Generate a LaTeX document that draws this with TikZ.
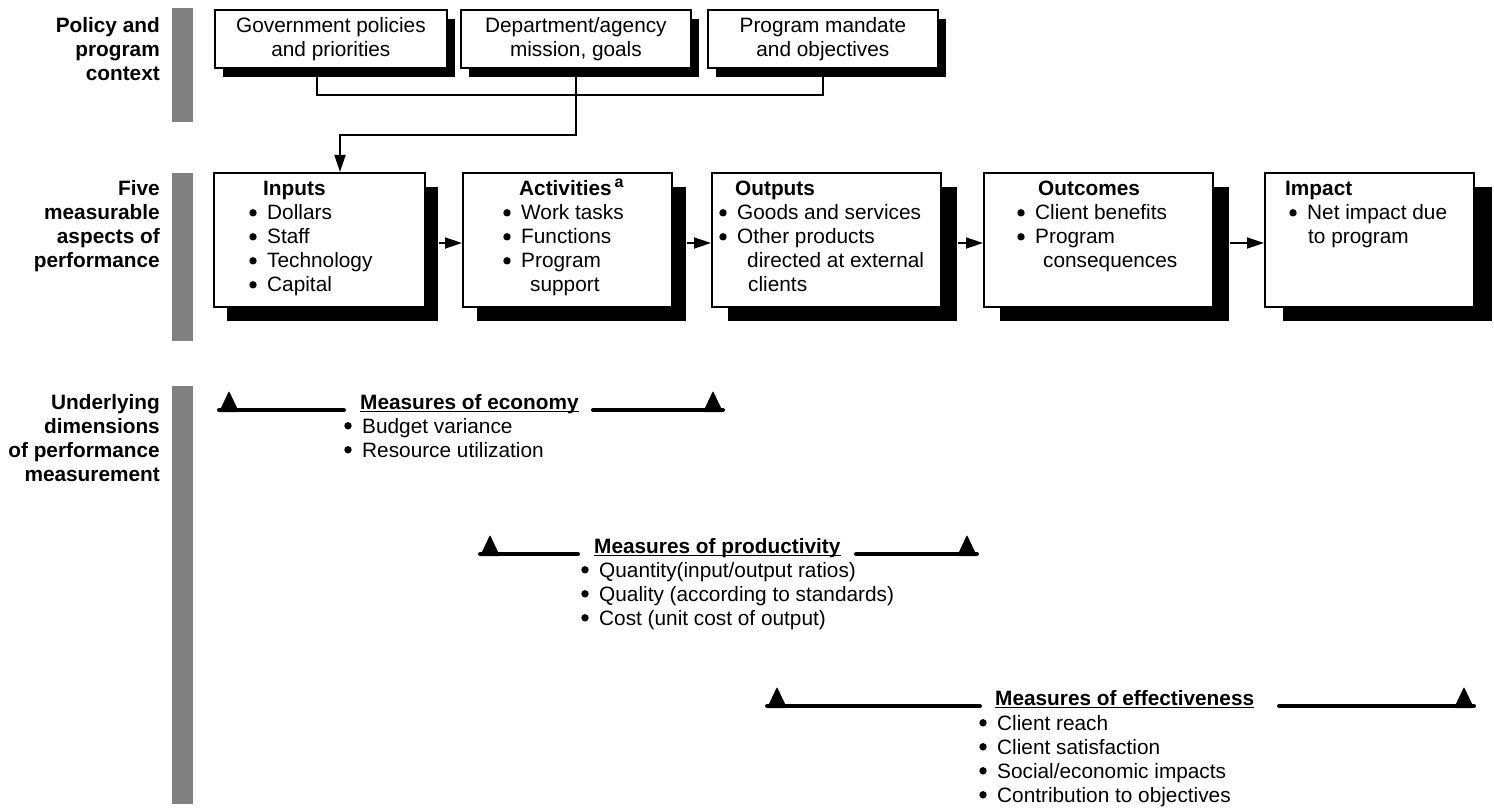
\documentclass[tikz,border=0pt]{standalone}
\usepackage{fontspec}
\setmainfont{Liberation Sans}
\usetikzlibrary{arrows.meta,shadows,calc}
\definecolor{barg}{RGB}{128,128,128}
\newcommand\fsz{\fontsize{20.8pt}{24pt}\selectfont}
\newcommand\bdot[2]{\fill (#1,#2-7.2) circle (3.7pt);}
\newcommand\mtri[2]{\fill[rounded corners=0.8pt] (#1-10,#2+2) -- (#1,#2-19) -- (#1+10,#2+2) -- cycle;}
\begin{document}
\begin{tikzpicture}[x=1pt,y=-1pt,
  box/.style={draw, line width=1.8pt, fill=white, anchor=north west, inner sep=0pt},
  topbox/.style={box, minimum height=58pt, align=center, font=\fsz,
    drop shadow={shadow xshift=8pt, shadow yshift=-9pt, fill=black, opacity=1}},
  mainbox/.style={box, minimum height=134pt,
    drop shadow={shadow xshift=#1pt, shadow yshift=-14pt, fill=black, opacity=1}},
  txt/.style={anchor=base west, inner sep=0pt, font=\fsz},
  ttl/.style={anchor=base west, inner sep=0pt, font=\fsz\bfseries},
  lab/.style={anchor=north east, align=right, inner sep=0pt, font=\fsz\bfseries},
  conn/.style={line width=1.8pt},
  arr/.style={line width=1.8pt, -{Triangle[length=17pt,width=11pt]}},
  meas/.style={line width=4pt, line cap=round},
  uline/.style={line width=1.5pt}
]
\useasboundingbox (0,0) rectangle (1494,810);

% gray bars
\fill[barg] (172,8) rectangle (193,122);
\fill[barg] (172,173) rectangle (193,341);
\fill[barg] (172,386) rectangle (193,804);

% left labels
\node[lab] (l1) at (160,17) {Policy and\\program\\context};
\node[lab] (l2) at (160,180) {Five\\measurable\\aspects of\\performance};
\node[lab] (l3) at (160,394) {Underlying\\dimensions\\of performance\\measurement};

% top boxes
\node[topbox, minimum width=232pt] (g1) at (214,9) {Government policies\\and priorities};
\node[topbox, minimum width=230pt] (g2) at (460,9) {Department/agency\\mission, goals};
\node[topbox, minimum width=230pt] (g3) at (707,9) {Program mandate\\and objectives};

% main boxes
\node[mainbox=13, minimum width=211pt] (inp) at (213,172) {};
\node[mainbox=14, minimum width=209pt] (act) at (462,172) {};
\node[mainbox=16, minimum width=229pt] (out) at (711,172) {};
\node[mainbox=16, minimum width=229pt] (ocm) at (983,172) {};
\node[mainbox=18, minimum width=209pt] (imp) at (1264,172) {};

% top connectors
\coordinate (j1) at (317,95);
\coordinate (j2) at (576,95);
\coordinate (j3) at (823,95);
\coordinate (k1) at (576,135);
\coordinate (k2) at (340,135);
\draw[conn] (g1.south -| j1) -- (j1) -- (j3) -- (g3.south -| j3);
\draw[conn] (g2.south -| j2) -- (j2);
\draw[arr] (j2) -- (k1) -- (k2) -- (inp.north -| k2);

% arrows between main boxes
\coordinate (ay) at (0,243);
\draw[arr] ($(inp.east |- ay)+(13,0)$) -- (act.west |- ay);
\draw[arr] ($(act.east |- ay)+(14,0)$) -- (out.west |- ay);
\draw[arr] ($(out.east |- ay)+(16,0)$) -- (ocm.west |- ay);
\draw[arr] ($(ocm.east |- ay)+(16,0)$) -- (imp.west |- ay);

% Inputs
\node[ttl] (t1) at (263,196) {Inputs};
\bdot{253}{220}\bdot{253}{244}\bdot{253}{268}\bdot{253}{292}
\node[txt] (t1a) at (267,220) {Dollars};
\node[txt] (t1b) at (267,244) {Staff};
\node[txt] (t1c) at (267,268) {Technology};
\node[txt] (t1d) at (267,292) {Capital};

% Activities
\node[ttl] (t2) at (519,196) {Activities\hspace{3pt}\raisebox{8pt}{\fontsize{16pt}{16pt}\selectfont a}};
\bdot{507}{220}\bdot{507}{244}\bdot{507}{268}
\node[txt] (t2a) at (521,220) {Work tasks};
\node[txt] (t2b) at (521,244) {Functions};
\node[txt] (t2c) at (521,268) {Program};
\node[txt] (t2d) at (530,292) {support};

% Outputs
\node[ttl] (t3) at (735,196) {Outputs};
\bdot{723}{220}\bdot{723}{244}
\node[txt] (t3a) at (737,220) {Goods and services};
\node[txt] (t3b) at (737,244) {Other products};
\node[txt] (t3c) at (747,268) {directed at external};
\node[txt] (t3d) at (748,292) {clients};

% Outcomes
\node[ttl] (t4) at (1038,196) {Outcomes};
\bdot{1021}{220}\bdot{1021}{244}
\node[txt] (t4a) at (1035,220) {Client benefits};
\node[txt] (t4b) at (1035,244) {Program};
\node[txt] (t4c) at (1043,268) {consequences};

% Impact
\node[ttl] (t5) at (1285,196) {Impact};
\bdot{1293}{220}
\node[txt] (t5a) at (1307,220) {Net impact due};
\node[txt] (t5b) at (1308,244) {to program};

% Measures of economy
\node[ttl] (h1) at (360,409) {Measures of economy};
\draw[uline] ($(h1.base west)+(0,2.5)$) -- ($(h1.base east)+(0,2.5)$);
\draw[meas] (219,410) -- (344,410);
\draw[meas] (593,410) -- (723,410);
\mtri{229}{410}
\mtri{713}{410}
\bdot{348}{433}\bdot{348}{457}
\node[txt] (e1) at (362,433) {Budget variance};
\node[txt] (e2) at (362,457) {Resource utilization};

% Measures of productivity
\node[ttl] (h2) at (594,553) {Measures of productivity};
\draw[uline] ($(h2.base west)+(0,2.5)$) -- ($(h2.base east)+(0,2.5)$);
\draw[meas] (480,554) -- (578,554);
\draw[meas] (856,554) -- (977,554);
\mtri{490}{554}
\mtri{967}{554}
\bdot{585}{577}\bdot{585}{601}\bdot{585}{625}
\node[txt] (p1) at (599,577) {Quantity(input/output ratios)};
\node[txt] (p2) at (599,601) {Quality (according to standards)};
\node[txt] (p3) at (599,625) {Cost (unit cost of output)};

% Measures of effectiveness
\node[ttl] (h3) at (995,705) {Measures of effectiveness};
\draw[uline] ($(h3.base west)+(0,2.5)$) -- ($(h3.base east)+(0,2.5)$);
\draw[meas] (767,706) -- (980,706);
\draw[meas] (1279,706) -- (1474,706);
\mtri{777}{706}
\mtri{1464}{706}
\bdot{983}{730}\bdot{983}{754}\bdot{983}{778}\bdot{983}{802}
\node[txt] (f1) at (997,730) {Client reach};
\node[txt] (f2) at (997,754) {Client satisfaction};
\node[txt] (f3) at (997,778) {Social/economic impacts};
\node[txt] (f4) at (997,802) {Contribution to objectives};
\end{tikzpicture}
\end{document}
